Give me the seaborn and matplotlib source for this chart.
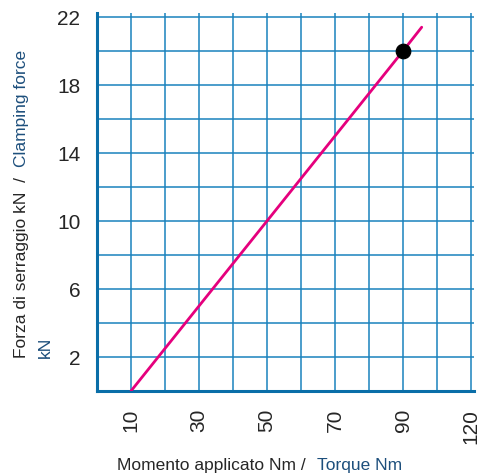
import matplotlib
matplotlib.use('Agg')
from matplotlib import pyplot as plt
import seaborn as sns
import pandas as pd

# data
torque = [10, 90, 95.5]
force = [0, 20, 21.4]
point_torque = [90]
point_force = [20]
xtick_pos = [10, 20, 30, 40, 50, 60, 70, 80, 90, 100, 110]
xtick_labels = ['10', '', '30', '', '50', '', '70', '', '90', '', '120']
ytick_pos = [2, 4, 6, 8, 10, 12, 14, 16, 18, 20, 22]
ytick_labels = ['2', '', '6', '', '10', '', '14', '', '18', '', '22']

sns.set_style('white')
plt.rcParams['font.family'] = ['Liberation Sans', 'DejaVu Sans']

grid_c = '#1a82bd'
spine_c = '#0a6ea8'
blue_txt = '#1d4f7c'

fig = plt.figure(figsize=(4.81, 4.77), dpi=100)
W, H = 481, 477
ax = fig.add_axes([97 / W, 85 / H, 111 * 3.4 / W, 22.24 * 17 / H])

df = pd.DataFrame({'torque': torque, 'force': force})
sns.lineplot(data=df, x='torque', y='force', ax=ax, color='#e5007d', lw=2.0, zorder=3)
sns.scatterplot(x=point_torque, y=point_force, ax=ax, color='black', s=110, zorder=4, edgecolor='black')

ax.set_xlim(0, 111)
ax.set_ylim(0, 22.24)
ax.set_xticks(xtick_pos)
ax.set_xticklabels(xtick_labels, rotation=90, fontsize=15)
ax.set_yticks(ytick_pos)
ax.set_yticklabels(ytick_labels, fontsize=15)
ax.grid(True, color=grid_c, lw=1.1)
ax.set_axisbelow(True)
ax.tick_params(axis='both', length=6, width=1.1, color=grid_c, direction='out', pad=6)
for s in ['top', 'right']:
    ax.spines[s].set_visible(False)
for s in ['left', 'bottom']:
    ax.spines[s].set_color(spine_c)
    ax.spines[s].set_linewidth(2.2)
ax.set_xlabel('')
ax.set_ylabel('')

# axis titles, two colours
fig.text(306 / W, 1 - 466 / H, 'Momento applicato Nm /', ha='right', va='center', fontsize=12.5)
fig.text(317 / W, 1 - 466 / H, 'Torque Nm', ha='left', va='center', fontsize=12.5, color=blue_txt)
fig.text(22 / W, 1 - 358 / H, 'Forza di serraggio kN  /', ha='center', va='bottom', rotation=90, fontsize=12.5)
fig.text(22 / W, 1 - 50 / H, 'Clamping force', ha='center', va='top', rotation=90, fontsize=12.5, color=blue_txt)
fig.text(45 / W, 1 - 358 / H, 'kN', ha='center', va='bottom', rotation=90, fontsize=12.5, color=blue_txt)

fig.savefig('out.png', dpi=100)
